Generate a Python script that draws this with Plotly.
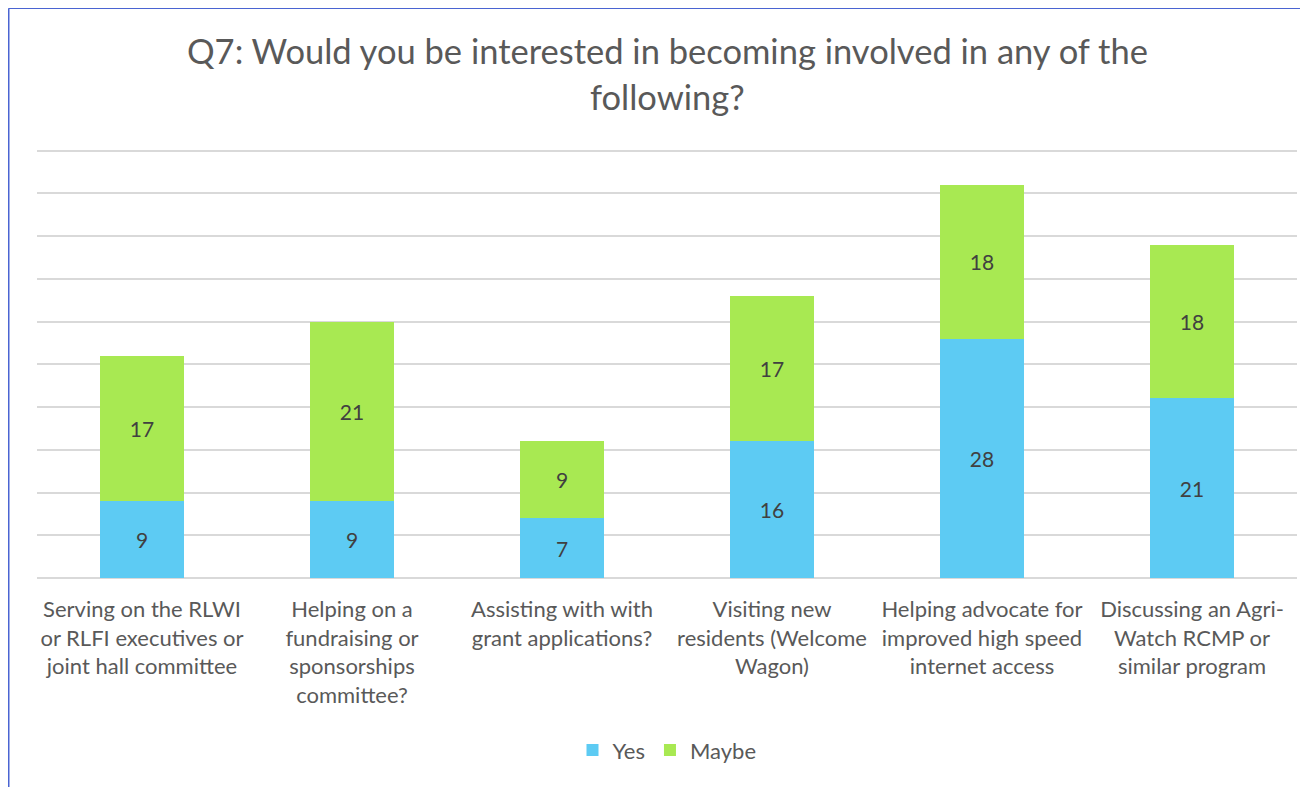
import plotly.graph_objects as go

categories = [
    "Serving on the RLWI<br>or RLFI executives or<br>joint hall committee",
    "Helping on a<br>fundraising or<br>sponsorships<br>committee?",
    "Assisting with with<br>grant applications?",
    "Visiting new<br>residents (Welcome<br>Wagon)",
    "Helping advocate for<br>improved high speed<br>internet access",
    "Discussing an Agri-<br>Watch RCMP or<br>similar program",
]
yes_values = [9, 9, 7, 16, 28, 21]
maybe_values = [17, 21, 9, 17, 18, 18]
series_names = ["Yes", "Maybe"]
series_colors = ["#5DCBF3", "#A8E952"]
title_lines = ["Q7: Would you be interested in becoming involved in any of the", "following?"]

FONT = "Lato"
TXT = "#595959"

# page has an 8px body margin; coordinates below are page pixels
OFF = 8
PL, PR, PB = 37, 1297, 578          # plot left/right/bottom on page
UNIT = 427 / 50                      # px per value unit
YMAX = 51
PH = UNIT * YMAX                     # plot height
PW = PR - PL


def px(x):
    return (x - PL) / PW


def py(y):
    return (PB - y) / PH


fig = go.Figure()
for name, vals, col in zip(series_names, [yes_values, maybe_values], series_colors):
    fig.add_trace(go.Bar(
        x=categories, y=vals, name=name,
        marker=dict(color=col, line=dict(width=0)),
        text=vals, textposition="inside", insidetextanchor="middle",
        textfont=dict(family=FONT, size=21, color="#404040"),
        constraintext="none",
    ))

fig.update_layout(
    barmode="stack",
    bargap=0.6,
    width=1308, height=787,
    margin=dict(l=PL - OFF, r=1308 - (PR - OFF), t=(PB - OFF) - PH, b=787 - (PB - OFF),
                autoexpand=False),
    paper_bgcolor="white", plot_bgcolor="white",
    font=dict(family=FONT, color=TXT),
    xaxis=dict(
        showgrid=False, showline=False, ticks="", automargin=False,
        ticklabelstandoff=16,
        tickfont=dict(family=FONT, size=22, color=TXT),
    ),
    yaxis=dict(
        range=[0, YMAX], dtick=5, showticklabels=False, automargin=False,
        showgrid=True, gridcolor="#D9D9D9", gridwidth=1.5,
        zeroline=True, zerolinecolor="#D9D9D9", zerolinewidth=1.5,
        showline=False, ticks="",
    ),
    legend=dict(
        orientation="h", x=px(667), xanchor="center", y=py(750), yanchor="middle",
        font=dict(family=FONT, size=22, color=TXT),
        itemwidth=30, traceorder="normal",
    ),
    annotations=[
        dict(text=title_lines[0], xref="paper", yref="paper",
             x=px(667), y=py(51), xanchor="center", yanchor="middle", showarrow=False,
             font=dict(family=FONT, size=34.5, color=TXT)),
        dict(text=title_lines[1], xref="paper", yref="paper",
             x=px(667), y=py(97), xanchor="center", yanchor="middle", showarrow=False,
             font=dict(family=FONT, size=34.5, color=TXT)),
    ],
    shapes=[
        dict(type="line", xref="paper", yref="paper",
             x0=px(8.75), x1=px(1330), y0=py(8.75), y1=py(8.75),
             line=dict(color="#4A64D2", width=1.5)),
        dict(type="line", xref="paper", yref="paper",
             x0=px(8.75), x1=px(8.75), y0=py(8.75), y1=py(820),
             line=dict(color="#4A64D2", width=1.5)),
    ],
)

fig.write_html("out.html")
